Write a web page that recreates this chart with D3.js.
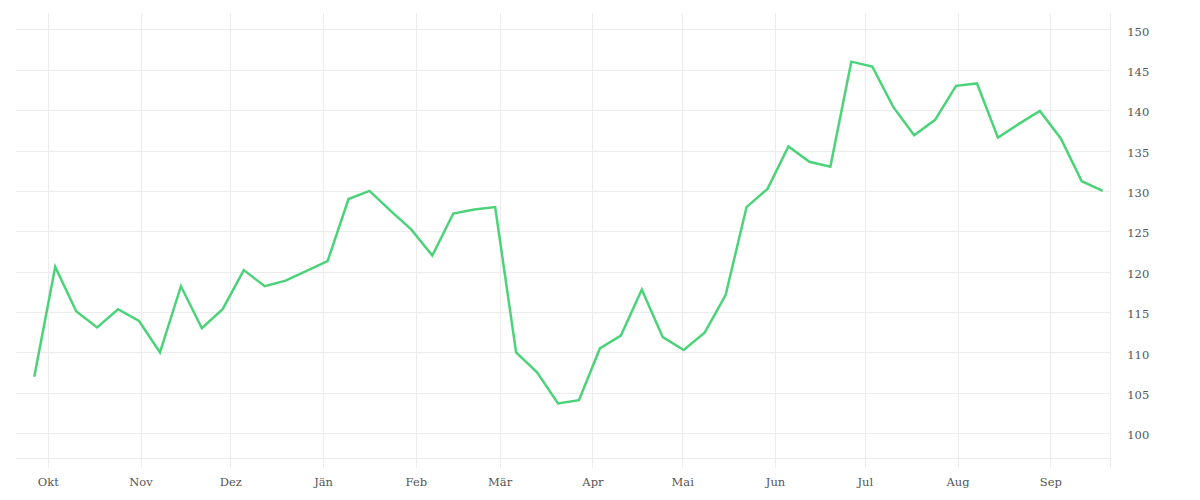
<!DOCTYPE html>
<html>
<head>
<meta charset="utf-8">
<script src="https://cdn.jsdelivr.net/npm/d3@7"></script>
<style>
  html, body { margin: 0; padding: 0; background: #fff; }
  svg { display: block; }
  .tick text { font-family: "DejaVu Serif", serif; font-size: 11.5px; fill: #555; }
</style>
</head>
<body>
<svg id="chart" width="1200" height="500"></svg>
<script>
const dates = [
  "2020-09-26","2020-10-03","2020-10-10","2020-10-17","2020-10-24","2020-10-31",
  "2020-11-07","2020-11-14","2020-11-21","2020-11-28",
  "2020-12-05","2020-12-12","2020-12-19","2020-12-26",
  "2021-01-02","2021-01-09","2021-01-16","2021-01-23","2021-01-30",
  "2021-02-06","2021-02-13","2021-02-20","2021-02-27",
  "2021-03-06","2021-03-13","2021-03-20","2021-03-27",
  "2021-04-03","2021-04-10","2021-04-17","2021-04-24",
  "2021-05-01","2021-05-08","2021-05-15","2021-05-22","2021-05-29",
  "2021-06-05","2021-06-12","2021-06-19","2021-06-26",
  "2021-07-03","2021-07-10","2021-07-17","2021-07-24","2021-07-31",
  "2021-08-07","2021-08-14","2021-08-21","2021-08-28",
  "2021-09-04","2021-09-11","2021-09-18"
];
const values = [
  107.0, 120.6, 115.1, 113.1, 115.35, 113.9,
  110.0, 118.2, 113.0, 115.4,
  120.2, 118.2, 118.9, 120.1,
  121.3, 129.0, 130.0, 127.55, 125.2,
  122.0, 127.2, 127.7, 128.0,
  110.0, 107.55, 103.7, 104.1,
  110.5, 112.1, 117.8, 111.9,
  110.3, 112.45, 117.1, 128.0, 130.25,
  135.5, 133.6, 133.0, 146.0,
  145.4, 140.4, 136.9, 138.8, 143.0,
  143.3, 136.6, 138.3, 139.9,
  136.5, 131.2, 130.0
];
const monthTickDates = ["2020-10-01","2020-11-01","2020-12-01","2021-01-01","2021-02-01","2021-03-01",
  "2021-04-01","2021-05-01","2021-06-01","2021-07-01","2021-08-01","2021-09-01"];
const monthTickLabels = ["Okt","Nov","Dez","Jän","Feb","Mär","Apr","Mai","Jun","Jul","Aug","Sep"];
const yTickValues = [100,105,110,115,120,125,130,135,140,145,150];

const parse = s => new Date(s + "T12:00:00");
const parseTick = s => new Date(s + "T00:00:00");

const plotLeft = 15.7, plotRight = 1110.3, plotTop = 13, plotBottom = 458;
const svg = d3.select("#chart");

const x = d3.scaleTime()
  .domain([new Date(2020, 8, 20, 7), new Date(2021, 8, 21, 1)])
  .range([plotLeft, plotRight]);
const y = d3.scaleLinear().domain([96.94, 152.02]).range([plotBottom, plotTop]);

const gridColor = "#ececec";

// horizontal gridlines
svg.append("g").selectAll("line").data(yTickValues).join("line")
  .attr("x1", plotLeft).attr("x2", plotRight)
  .attr("y1", d => Math.round(y(d)) + 0.5).attr("y2", d => Math.round(y(d)) + 0.5)
  .attr("stroke", gridColor).attr("stroke-width", 1);
// bottom baseline
svg.append("line").attr("x1", plotLeft).attr("x2", plotRight)
  .attr("y1", plotBottom + 0.5).attr("y2", plotBottom + 0.5)
  .attr("stroke", gridColor).attr("stroke-width", 1);

// vertical month gridlines
const tickDates = monthTickDates.map(parseTick);
svg.append("g").selectAll("line").data(tickDates).join("line")
  .attr("x1", d => Math.round(x(d)) + 0.5).attr("x2", d => Math.round(x(d)) + 0.5)
  .attr("y1", plotTop).attr("y2", plotBottom + 10)
  .attr("stroke", gridColor).attr("stroke-width", 1);
// right axis line
svg.append("line").attr("x1", Math.round(plotRight) + 0.5).attr("x2", Math.round(plotRight) + 0.5)
  .attr("y1", plotTop).attr("y2", plotBottom + 10)
  .attr("stroke", gridColor).attr("stroke-width", 1);

// x axis labels
const xAxis = d3.axisBottom(x).tickValues(tickDates)
  .tickFormat((d, i) => monthTickLabels[i]).tickSize(0).tickPadding(0);
const gx = svg.append("g").attr("transform", `translate(0, ${plotBottom + 20})`).call(xAxis);
gx.select(".domain").remove();
gx.selectAll("text").attr("dy", "0.71em");

// y axis labels
const yAxis = d3.axisRight(y).tickValues(yTickValues).tickSize(0).tickPadding(0);
const gy = svg.append("g").attr("transform", `translate(${plotRight + 17}, 2)`).call(yAxis);
gy.select(".domain").remove();

// line
const data = dates.map((d, i) => ({ date: parse(d), value: values[i] }));
svg.append("path").datum(data)
  .attr("fill", "none")
  .attr("stroke", "#4cd37a")
  .attr("stroke-width", 2.5)
  .attr("stroke-linejoin", "miter")
  .attr("d", d3.line().x(d => x(d.date)).y(d => y(d.value)));
</script>
</body>
</html>
